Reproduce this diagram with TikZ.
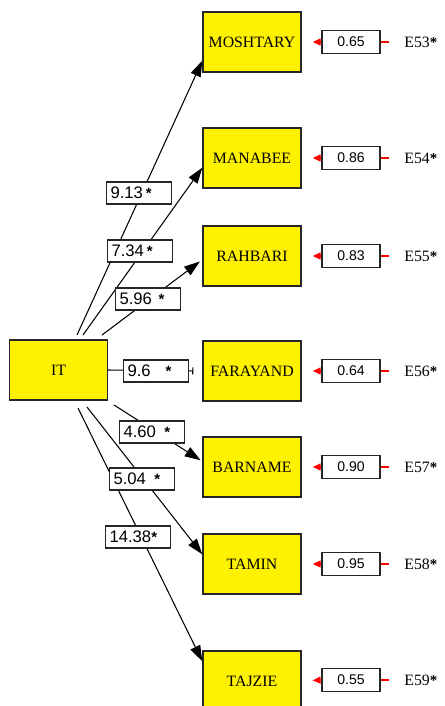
\documentclass[tikz,border=0pt]{standalone}
\usepackage{fontspec}
\setmainfont{Liberation Serif}
\newfontfamily\arialf{Liberation Sans}
\usetikzlibrary{arrows.meta,calc}
\newdimen\pxu \pxu=0.02cm
\newcommand{\cstar}{{\fontsize{8.5}{8}\selectfont\textbf{*}}}
\begin{document}
\begin{tikzpicture}[x=0.02cm,y=-0.02cm,
  var/.style={draw=black!85, fill=yellow, line width=0.8pt, minimum width=98\pxu, minimum height=60\pxu, inner sep=0pt, font=\fontsize{9}{10}\selectfont},
  coef/.style={draw=black!85, fill=white, line width=0.8pt, minimum height=22\pxu, inner ysep=0pt, inner xsep=4\pxu, text width=57\pxu, align=left, font=\arialf\fontsize{9.5}{10}\selectfont},
  err/.style={draw=black!85, fill=white, line width=0.8pt, minimum width=58\pxu, minimum height=23\pxu, inner sep=0pt, font=\arialf\fontsize{8}{9}\selectfont},
  elab/.style={anchor=west, inner sep=0pt, font=\fontsize{9}{10}\selectfont},
  pathline/.style={draw=black, line width=0.6pt, -{Triangle[length=9pt,width=6pt]}},
  errarr/.style={draw=red, line width=0.6pt, -{Triangle[length=4.5pt,width=4pt]}, shorten >=11\pxu},
  stub/.style={draw=red, line width=0.6pt}
]
\useasboundingbox (0,0) rectangle (444,706);
\clip (0,0) rectangle (444,706);

% latent / observed boxes
\node[var] (IT) at (58.5,370) {IT};
\node[var] (M)  at (252,42)  {MOSHTARY};
\node[var] (MA) at (252,158) {MANABEE};
\node[var] (R)  at (252,256) {RAHBARI};
\node[var] (F)  at (252,371) {FARAYAND};
\node[var] (B)  at (252,467) {BARNAME};
\node[var] (T)  at (252,564) {TAMIN};
\node[var] (TJ) at (252,681) {TAJZIE};

% error terms
\foreach \n/\y/\v/\e in {M/42/0.65/53, MA/158/0.86/54, R/256/0.83/55, F/371/0.64/56, B/467/0.90/57, T/564/0.95/58, TJ/680/0.55/59}{
  \node[err] (err\n) at (351,\y) {\v};
  \node[elab] (lab\n) at (404,\y) {E\e\cstar};
  \coordinate (st\n) at (389,\y);
  \draw[stub] (st\n) -- (err\n.east);
  \draw[errarr] (err\n.west) -- (\n.east);
}

% path start points
\coordinate (a1) at (77,335);
\coordinate (a2) at (83,335);
\coordinate (a3) at (102,335);
\coordinate (a5) at (114,405);
\coordinate (a6) at (87,407);
\coordinate (a7) at (78,408);

\draw[pathline] (a1) -- ([yshift=12\pxu]M.south west);
\draw[pathline] (a2) -- ([yshift=21\pxu]MA.south west);
\draw[pathline, shorten >=3\pxu] (a3) -- ([yshift=27\pxu]R.south west);
\draw[draw=black, line width=0.6pt, -{Bar[width=4pt]}, shorten >=9\pxu] (IT.east) -- (F.west);
\draw[pathline, shorten >=2\pxu] (a5) -- ([yshift=-25\pxu]B.north west);
\draw[pathline] (a6) -- ([yshift=-21\pxu]T.north west);
\draw[pathline] (a7) -- ([yshift=-11\pxu]TJ.north west);

% coefficient labels
\node[coef] (c1) at (139,193) {9.13\,\cstar};
\node[coef] (c2) at (140,251) {7.34\,\cstar};
\node[coef] (c3) at (148,299) {5.96\hspace{0.4em}\cstar};
\node[coef] (c4) at (156,371) {9.6\hspace{0.9em}\cstar};
\node[coef] (c5) at (152,432) {4.60\hspace{0.5em}\cstar};
\node[coef] (c6) at (142,479) {5.04\hspace{0.5em}\cstar};
\node[coef] (c7) at (138,537) {14.38\cstar};
\end{tikzpicture}
\end{document}
